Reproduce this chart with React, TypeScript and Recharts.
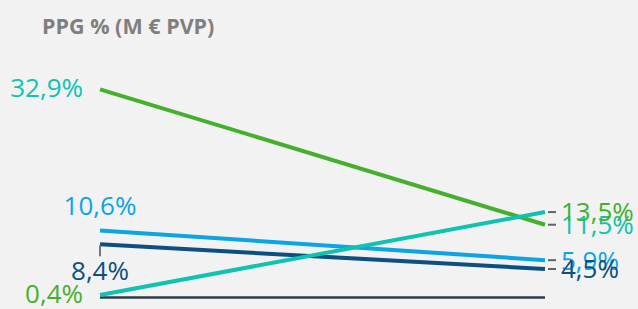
import { Line, LineChart, ReferenceLine, XAxis, YAxis } from 'recharts'

// two points per series: start / end
const positions = [0, 1]
const verde = [32.9, 11.5]
const turquesa = [0.4, 13.5]
const azulClaro = [10.6, 5.9]
const azulOscuro = [8.4, 4.5]

const data = positions.map((pos, i) => ({
  pos,
  verde: verde[i],
  turquesa: turquesa[i],
  azulClaro: azulClaro[i],
  azulOscuro: azulOscuro[i],
}))

const GREEN = '#45b02d'
const TEAL = '#0fc2b1'
const LIGHT = '#0aa5e2'
const DARK = '#0c4f80'
const FONT = "'Open Sans', sans-serif"

const fmt = (v: number) => v.toFixed(1).replace('.', ',') + '%'

type StartMode = 'left' | 'top' | 'bottom'

function makeLabel(color: string, start: StartMode) {
  return (props: any) => {
    const { x, y, value, index } = props
    if (x == null || y == null) return null
    const txt = fmt(Number(value))
    if (index === 1) {
      return (
        <g key={`r${index}`}>
          <line x1={x + 3} x2={x + 11} y1={y} y2={y} stroke="#5f6469" strokeWidth={2} />
          <text x={x + 16} y={y} dy="0.36em" fill={color} fontSize={26} fontFamily={FONT}>
            {txt}
          </text>
        </g>
      )
    }
    if (start === 'left') {
      return (
        <text key="l" x={x - 17} y={y} dy="0.3em" textAnchor="end" fill={color} fontSize={26} fontFamily={FONT}>
          {txt}
        </text>
      )
    }
    if (start === 'top') {
      return (
        <text key="l" x={x} y={y - 25} dy="0.36em" textAnchor="middle" fill={color} fontSize={26} fontFamily={FONT}>
          {txt}
        </text>
      )
    }
    return (
      <g key="l">
        <line x1={x} x2={x} y1={y + 1} y2={y + 12} stroke="#777" strokeWidth={2} />
        <text x={x} y={y + 26} dy="0.36em" textAnchor="middle" fill={color} fontSize={26} fontFamily={FONT}>
          {txt}
        </text>
      </g>
    )
  }
}

export default function App() {
  return (
    <div style={{ width: 638, height: 309, background: '#f2f2f2', position: 'relative', fontFamily: FONT }}>
      <style>{'body{margin:0}'}</style>
      <div
        style={{
          position: 'absolute',
          left: 42,
          top: 11,
          fontSize: 21.5,
          fontWeight: 700,
          color: '#7f7f7f',
          fontFamily: FONT,
          whiteSpace: 'nowrap',
        }}
      >
        PPG % (M € PVP)
      </div>
      <LineChart width={638} height={309} data={data} margin={{ top: 76, right: 93, bottom: 11.5, left: 100 }}>
        <XAxis dataKey="pos" type="number" domain={[0, 1]} hide />
        <YAxis type="number" domain={[0, 35]} hide />
        <ReferenceLine y={0} stroke="#2e3d48" strokeWidth={2.5} ifOverflow="visible" />
        <Line
          dataKey="verde"
          stroke={GREEN}
          strokeWidth={4}
          dot={false}
          isAnimationActive={false}
          label={makeLabel(TEAL, 'left')}
        />
        <Line
          dataKey="azulClaro"
          stroke={LIGHT}
          strokeWidth={4}
          dot={false}
          isAnimationActive={false}
          label={makeLabel(LIGHT, 'top')}
        />
        <Line
          dataKey="azulOscuro"
          stroke={DARK}
          strokeWidth={4}
          dot={false}
          isAnimationActive={false}
          label={makeLabel(DARK, 'bottom')}
        />
        <Line
          dataKey="turquesa"
          stroke={TEAL}
          strokeWidth={4}
          dot={false}
          isAnimationActive={false}
          label={makeLabel(GREEN, 'left')}
        />
      </LineChart>
    </div>
  )
}
